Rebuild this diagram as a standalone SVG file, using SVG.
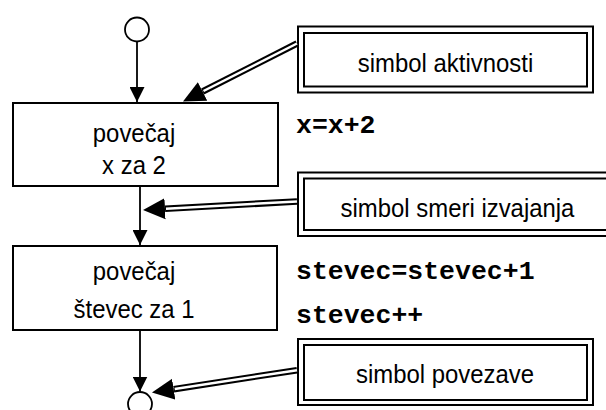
<svg xmlns="http://www.w3.org/2000/svg" width="606" height="410" viewBox="0 0 606 410">
  <style>
    .box { fill: #fff; stroke: #000; stroke-width: 2; }
    .frame { fill: none; stroke: #000; stroke-width: 2; }
    .lbl { font-family: "Liberation Sans", Arial, sans-serif; font-size: 26px; fill: #000; text-anchor: middle; }
    .code { font-family: "Liberation Mono", "Courier New", monospace; font-size: 26.5px; font-weight: bold; fill: #000; }
    .flow { stroke: #000; stroke-width: 1.8; fill: none; }
    .dbl-out { stroke: #000; stroke-width: 6.5; fill: none; }
    .dbl-in { stroke: #fff; stroke-width: 2.5; fill: none; }
    .term { fill: #fff; stroke: #000; stroke-width: 1.8; }
  </style>
  <defs>
    <marker id="arr" markerUnits="userSpaceOnUse" viewBox="0 0 15 15" markerWidth="15" markerHeight="15" refX="15" refY="7.5" orient="auto">
      <path d="M0,0 L15,7.5 L0,15 z" fill="#000"/>
    </marker>
    <marker id="bigarr" markerUnits="userSpaceOnUse" viewBox="0 -11 22 22" markerWidth="22" markerHeight="22" refX="0" refY="0" orient="auto">
      <path d="M0,-10.5 L22,0 L0,10.5 z" fill="#000"/>
    </marker>
  </defs>

  <!-- start / end terminals -->
  <g id="start">
    <circle class="term" cx="137" cy="29.5" r="12"/>
  </g>
  <g id="end">
    <circle class="term" cx="140" cy="404" r="12"/>
  </g>

  <!-- activity: x += 2 -->
  <g id="act1">
    <rect class="box" x="13" y="103" width="265" height="83"/>
    <text class="lbl" transform="translate(134,141.5) scale(0.92,1)">povečaj</text>
    <text class="lbl" transform="translate(134,173.5) scale(0.92,1)">x za 2</text>
  </g>

  <!-- activity: counter += 1 -->
  <g id="act2">
    <rect class="box" x="13" y="246" width="264" height="84"/>
    <text class="lbl" transform="translate(134,280) scale(0.92,1)">povečaj</text>
    <text class="lbl" transform="translate(134,318) scale(0.92,1)">števec za 1</text>
  </g>

  <!-- code samples -->
  <g id="code">
    <text class="code" x="296" y="133">x=x+2</text>
    <text class="code" x="296" y="279">stevec=stevec+1</text>
    <text class="code" x="296" y="323">stevec++</text>
  </g>

  <!-- legend boxes with double frame -->
  <g id="legend-activity">
    <rect class="box" x="298" y="26.5" width="295" height="66"/>
    <rect class="frame" x="304" y="33" width="283" height="53.5"/>
    <text class="lbl" transform="translate(445.5,71.5) scale(0.92,1)">simbol aktivnosti</text>
  </g>
  <g id="legend-flow">
    <rect class="box" x="298" y="172.5" width="319" height="63.5"/>
    <rect class="frame" x="304" y="178.5" width="307" height="51.5"/>
    <text class="lbl" transform="translate(457.5,216.5) scale(0.92,1)">simbol smeri izvajanja</text>
  </g>
  <g id="legend-connector">
    <rect class="box" x="298" y="339" width="295" height="66"/>
    <rect class="frame" x="304" y="345" width="283" height="55"/>
    <text class="lbl" transform="translate(445,383) scale(0.92,1)">simbol povezave</text>
  </g>

  <!-- connectors -->
  <g id="connectors">
    <line class="flow" x1="137" y1="41.5" x2="137" y2="102" marker-end="url(#arr)"/>
    <line class="flow" x1="140" y1="186" x2="140" y2="245" marker-end="url(#arr)"/>
    <line class="flow" x1="140" y1="330" x2="140" y2="391.5" marker-end="url(#arr)"/>

    <line class="dbl-out" x1="297" y1="43.5" x2="202.6" y2="91.5" marker-end="url(#bigarr)"/>
    <line class="dbl-in" x1="297" y1="43.5" x2="203.5" y2="91" />

    <line class="dbl-out" x1="297" y1="201.5" x2="165" y2="208.8" marker-end="url(#bigarr)"/>
    <line class="dbl-in" x1="297" y1="201.5" x2="166" y2="208.7" />

    <line class="dbl-out" x1="297" y1="370.2" x2="173.7" y2="389.2" marker-end="url(#bigarr)"/>
    <line class="dbl-in" x1="297" y1="370.2" x2="174.7" y2="389" />
  </g>
</svg>
